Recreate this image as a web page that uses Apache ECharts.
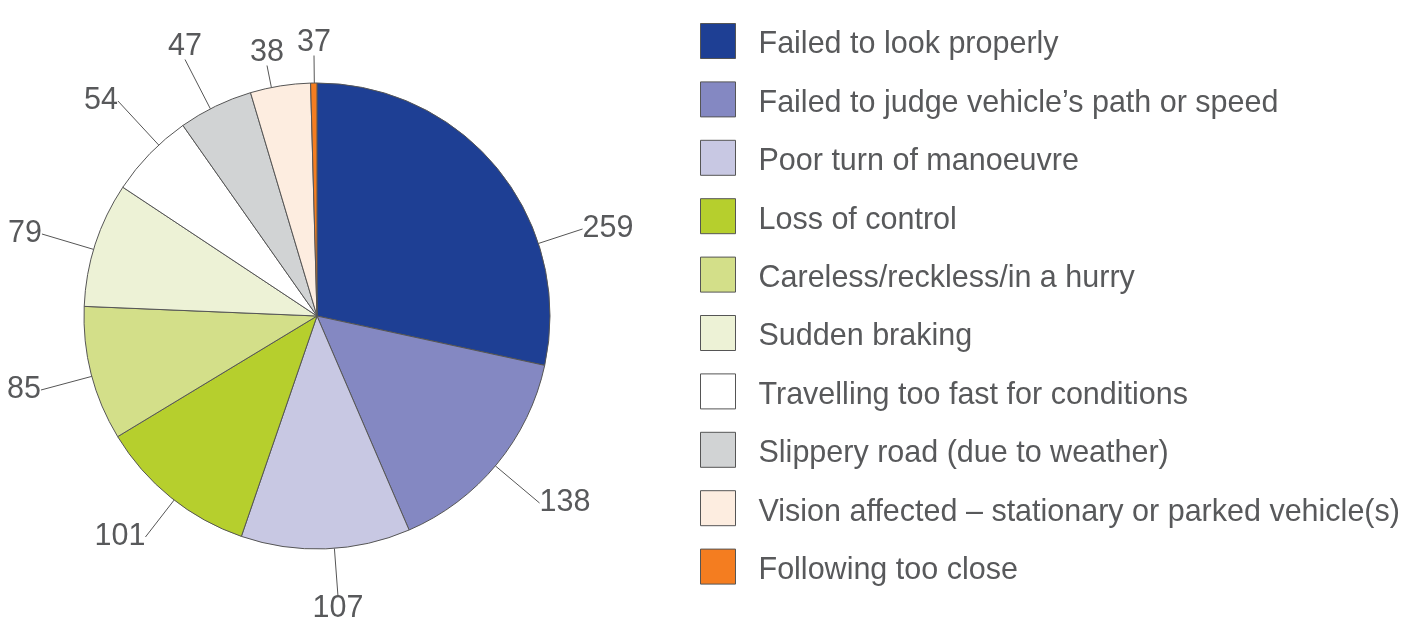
<!DOCTYPE html>
<html>
<head>
<meta charset="utf-8">
<script src="https://cdn.jsdelivr.net/npm/echarts@6/dist/echarts.min.js"></script>
<style>
  html, body { margin: 0; padding: 0; background: #fff; }
  #chart { width: 1416px; height: 623px; }
</style>
</head>
<body>
<div id="chart"></div>
<script>
// categories, in clockwise order from the top
var categories = [
    'Failed to look properly',
    'Failed to judge vehicle\u2019s path or speed',
    'Poor turn of manoeuvre',
    'Loss of control',
    'Careless/reckless/in a hurry',
    'Sudden braking',
    'Travelling too fast for conditions',
    'Slippery road (due to weather)',
    'Vision affected \u2013 stationary or parked vehicle(s)',
    'Following too close'
]
// numbers printed next to the slices
var shownValues = [259, 138, 107, 101, 85, 79, 54, 47, 38, 37]
// slice sizes as drawn (the last slice is drawn as a thin sliver)
var sliceValues = [259, 138, 107, 101, 85, 79, 54, 47, 38, 4]
var colors = ['#1e3f94', '#8488c2', '#c8c8e3', '#b6cf2d', '#d3df89',
              '#edf2d6', '#ffffff', '#d1d3d4', '#fdede0', '#f47d20']

// label centres (layout only)
var labelPos = [[608, 229], [565, 503], [338, 609], [120, 537], [24, 390],
                [25, 234], [101, 101], [185, 47], [267, 53], [314, 43]]

var textColor = '#58595b'
var CX = 317, CY = 316, R = 233

// slice angle bounds (clockwise from 12 o'clock), from the slice values
var total = sliceValues.reduce(function (a, b) { return a + b }, 0)
var bounds = []
var acc = 0
sliceValues.forEach(function (v) {
    bounds.push([acc / total * Math.PI * 2, (acc + v) / total * Math.PI * 2])
    acc += v
})

// nearest point on a slice's arc to (px, py)
function arcPoint(i, px, py) {
    var a = Math.atan2(px - CX, -(py - CY))
    if (a < 0) a += Math.PI * 2
    var b = bounds[i]
    if (a < b[0] || a > b[1]) {
        var d0 = Math.abs(a - b[0]), d1 = Math.abs(a - b[1])
        d0 = Math.min(d0, Math.PI * 2 - d0)
        d1 = Math.min(d1, Math.PI * 2 - d1)
        a = d0 < d1 ? b[0] : b[1]
    }
    return [CX + R * Math.sin(a), CY - R * Math.cos(a)]
}

var chart = echarts.init(document.getElementById('chart'))

var option = {
    animation: false,
    color: colors,
    legend: {
        orient: 'vertical',
        left: 695,
        top: 18,
        itemWidth: 35,
        itemHeight: 35,
        itemGap: 20.9,
        icon: 'rect',
        selectedMode: false,
        itemStyle: { borderColor: '#555', borderWidth: 1 },
        formatter: '{t|{name}}',
        textStyle: {
            fontFamily: 'Liberation Sans',
            fontSize: 30.5,
            color: textColor,
            padding: [8, 0, 0, 18],
            rich: {
                t: { fontFamily: 'Liberation Sans', fontSize: 30.5, color: textColor }
            }
        },
        data: categories
    },
    series: [{
        type: 'pie',
        center: [CX, CY],
        radius: R,
        startAngle: 90,
        clockwise: true,
        avoidLabelOverlap: false,
        itemStyle: { borderColor: '#555', borderWidth: 1 },
        emphasis: { disabled: true },
        label: {
            show: true,
            position: 'outside',
            fontFamily: 'Liberation Sans',
            fontSize: 30.5,
            color: textColor,
            formatter: function (p) { return String(shownValues[p.dataIndex]) }
        },
        labelLine: {
            show: true,
            length: 20,
            length2: 0,
            lineStyle: { color: '#555', width: 1 }
        },
        labelLayout: function (p) {
            var i = p.dataIndex
            var pos = labelPos[i]
            var w = p.labelRect.width / 2, h = p.labelRect.height / 2 - 3
            var sides = [[pos[0] - w, pos[1]], [pos[0] + w, pos[1]],
                         [pos[0], pos[1] - h], [pos[0], pos[1] + h]]
            var best = null, bestD = Infinity
            sides.forEach(function (s) {
                var e = arcPoint(i, s[0], s[1])
                var d = Math.hypot(e[0] - s[0], e[1] - s[1])
                if (d < bestD) { bestD = d; best = [e, s] }
            })
            return {
                x: pos[0], y: pos[1], align: 'center', verticalAlign: 'middle',
                labelLinePoints: [best[0], best[1], best[1]]
            }
        },
        data: categories.map(function (name, i) {
            return { name: name, value: sliceValues[i] }
        })
    }]
}
chart.setOption(option)
</script>
</body>
</html>
